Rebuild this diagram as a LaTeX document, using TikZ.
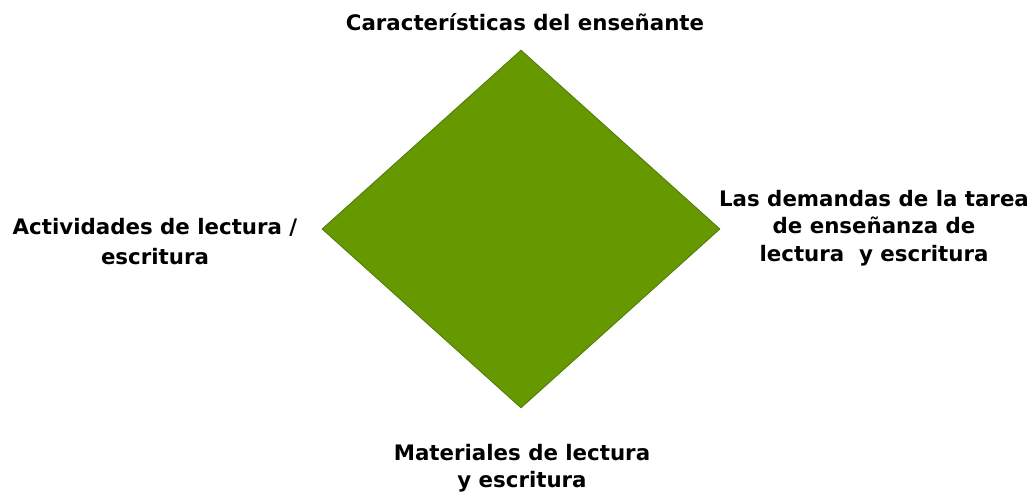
\documentclass[tikz,border=0pt]{standalone}
\usepackage{fontspec}
\setmainfont{DejaVu Sans}
\usetikzlibrary{shapes.geometric}
\usetikzlibrary{positioning}
\definecolor{verdeoliva}{HTML}{669900}
\definecolor{bordeverde}{HTML}{4E7A0A}

\begin{document}
\begin{tikzpicture}[x=0.75pt, y=-0.75pt,
rombonode/.style={diamond, draw=bordeverde, fill=verdeoliva, line width=0.6pt, inner sep=0pt, minimum width=298.5pt, minimum height=268.5pt},
textonode/.style={align=center, font=\bfseries\fontsize{16}{20.5}\selectfont, inner sep=0pt},
]
\useasboundingbox (0,0) rectangle (1032,493);
%Nodes
\node[rombonode]  (rombo)        at (521,229) {};
\node[textonode]  (ensenante)    at (525,22)  {Características del enseñante};
\node[textonode]  (actividades)  at (155,242) {Actividades de lectura /\\[2pt]escritura};
\node[textonode]  (demandas)     at (874,228) {Las demandas de la tarea\\de enseñanza de\\lectura \ y escritura};
\node[textonode]  (materiales)   at (522,468) {Materiales de lectura\\y escritura};

\end{tikzpicture}
\end{document}
